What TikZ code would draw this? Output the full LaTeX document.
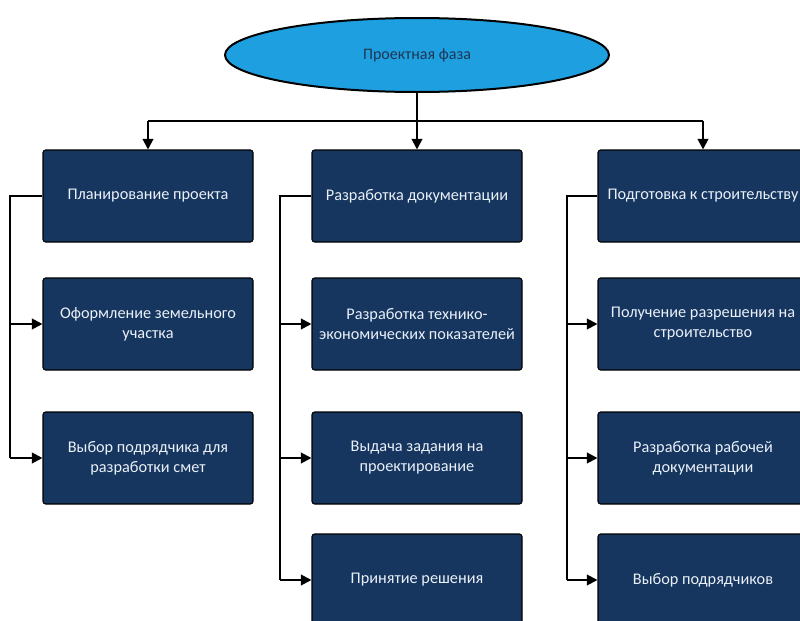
\documentclass[tikz,border=0pt]{standalone}
\usepackage{fontspec}
\setmainfont{Carlito}
\usetikzlibrary{shapes.geometric,arrows.meta}
\definecolor{boxnavy}{HTML}{16365F}
\definecolor{phaseblue}{HTML}{1EA0E0}
\definecolor{phasetext}{HTML}{1E3555}
\definecolor{boxtext}{HTML}{EAF0F8}
\tikzset{
  phase/.style={ellipse, draw=black, line width=1.5pt, fill=phaseblue,
    minimum width=288pt, minimum height=55.5pt, inner sep=0pt,
    text=phasetext, font=\fontsize{12}{14}\selectfont},
  stagebox/.style={rectangle, rounded corners=2pt, draw=black, line width=0.8pt,
    fill=boxnavy, minimum width=157.5pt, minimum height=69pt, inner sep=2pt,
    align=center, text=boxtext, font=\fontsize{12.2}{15}\selectfont},
  link/.style={draw=black, line width=1.6pt},
  arr/.style={link, -{Triangle[length=8pt,width=8pt]}}
}
\begin{document}
\begin{tikzpicture}[x=0.75pt, y=-0.75pt]
  \useasboundingbox (0,0) rectangle (800,621);
  \clip (0,0) rectangle (800,621);

  % top phase
  \node[phase] (phase) at (417,55) {Проектная фаза};

  % column heads
  \node[stagebox] (plan) at (148,196) {Планирование проекта};
  \node[stagebox] (docs) at (417,196) {Разработка документации};
  \node[stagebox] (prep) at (703,196) {Подготовка к строительству};

  % left column
  \node[stagebox] (land) at (148,324) {Оформление земельного\\участка};
  \node[stagebox] (contr) at (148,458) {Выбор подрядчика для\\разработки смет};

  % middle column
  \node[stagebox] (teo) at (417,324) {Разработка технико-\\экономических показателей};
  \node[stagebox] (task) at (417,458) {Выдача задания на\\проектирование};
  \node[stagebox] (dec) at (417,580) {Принятие решения};

  % right column
  \node[stagebox] (perm) at (703,324) {Получение разрешения на\\строительство};
  \node[stagebox] (work) at (703,458) {Разработка рабочей\\документации};
  \node[stagebox] (subs) at (703,580) {Выбор подрядчиков};

  % distribution from the phase to the column heads
  \coordinate (busL) at (148,121);
  \coordinate (busR) at (703,121);
  \draw[link] (busL) -- (busR);
  \draw[arr] (phase.south) -- (docs.north);
  \draw[arr] (busL) -- (plan.north);
  \draw[arr] (busR) -- (prep.north);

  % left column spine
  \coordinate (lspine) at (10,196);
  \draw[link] (plan.west) -- (lspine) -- (lspine |- contr.west);
  \draw[arr] (lspine |- land.west) -- (land.west);
  \draw[arr] (lspine |- contr.west) -- (contr.west);

  % middle column spine
  \coordinate (mspine) at (280,196);
  \draw[link] (docs.west) -- (mspine) -- (mspine |- dec.west);
  \draw[arr] (mspine |- teo.west) -- (teo.west);
  \draw[arr] (mspine |- task.west) -- (task.west);
  \draw[arr] (mspine |- dec.west) -- (dec.west);

  % right column spine
  \coordinate (rspine) at (567,196);
  \draw[link] (prep.west) -- (rspine) -- (rspine |- subs.west);
  \draw[arr] (rspine |- perm.west) -- (perm.west);
  \draw[arr] (rspine |- work.west) -- (work.west);
  \draw[arr] (rspine |- subs.west) -- (subs.west);
\end{tikzpicture}
\end{document}
